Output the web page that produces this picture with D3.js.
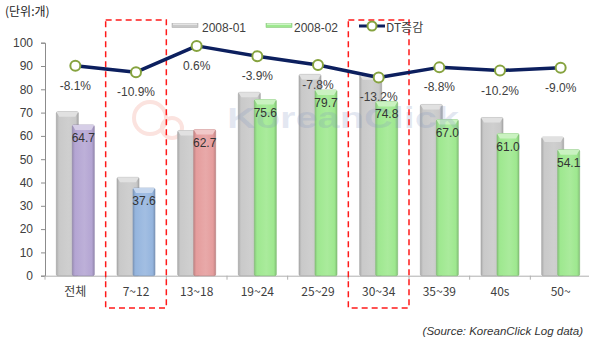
<!DOCTYPE html>
<html>
<head>
<meta charset="utf-8">
<script src="https://cdn.jsdelivr.net/npm/d3@7/dist/d3.min.js"></script>
<style>
  html, body { margin: 0; padding: 0; background: #fff; }
  svg { display: block; }
  text { font-family: "Liberation Sans", Arial, "Noto Sans CJK KR", sans-serif; }
  .kr { font-family: "Noto Sans CJK KR", "Liberation Sans", sans-serif; }
</style>
</head>
<body>
<svg id="chart" width="589" height="340"></svg>
<script>
// Daily visits by age group, Jan vs Feb 2008, with the month-over-month change
const categories = ["전체", "7~12", "13~18", "19~24", "25~29", "30~34", "35~39", "40s", "50~"];
const jan2008 = [70.4, 42.2, 62.3, 78.7, 86.4, 86.2, 73.5, 67.9, 59.5];
const feb2008 = [64.7, 37.6, 62.7, 75.6, 79.7, 74.8, 67.0, 61.0, 54.1];
const dtChange = [-8.1, -10.9, 0.6, -3.9, -7.8, -13.2, -8.8, -10.2, -9.0];
const yTicks = [0, 10, 20, 30, 40, 50, 60, 70, 80, 90, 100];
const highlighted = ["7~12", "30~34"];
const seriesNames = ["2008-01", "2008-02", "DT증감"];

// fill colour of the February bar per group
const febColors = ["#b4a5d3", "#95b5de", "#e59d9d", "#9ee88f", "#9ee88f", "#9ee88f", "#9ee88f", "#9ee88f", "#9ee88f"];

const svg = d3.select("#chart");
const plot = { left: 45, right: 591, top: 42.7, bottom: 275.7 };

const x = d3.scaleBand().domain(categories).range([plot.left, plot.right]).padding(0);
const y = d3.scaleLinear().domain([0, 100]).range([plot.bottom, plot.top]);
// secondary (hidden) axis for the percentage line
const y2 = d3.scaleLinear().domain([-100, 2]).range([plot.bottom, plot.top]);

const barW = 22, barOff = 8;

// ---- gradients for the bevelled bars
const defs = svg.append("defs");
function shade(c, k) { return d3.color(c).darker(k).formatHex(); }
function light(c, k) { return d3.interpolateRgb(c, "#ffffff")(k); }
function makeGrad(id, base) {
  const g = defs.append("linearGradient").attr("id", id).attr("x1", 0).attr("x2", 1).attr("y1", 0).attr("y2", 0);
  g.append("stop").attr("offset", "0%").attr("stop-color", shade(base, 0.45));
  g.append("stop").attr("offset", "12%").attr("stop-color", base);
  g.append("stop").attr("offset", "55%").attr("stop-color", light(base, 0.12));
  g.append("stop").attr("offset", "88%").attr("stop-color", base);
  g.append("stop").attr("offset", "100%").attr("stop-color", shade(base, 0.5));
}
makeGrad("g-jan", "#c9c9c9");
febColors.forEach((c, i) => makeGrad("g-feb-" + i, c));

// ---- faint logo swirl behind the plot
svg.append("circle").attr("cx", 150).attr("cy", 118).attr("r", 16)
  .attr("fill", "none").attr("stroke", "#fbe3df").attr("stroke-width", 4);
svg.append("circle").attr("cx", 172).attr("cy", 128).attr("r", 10)
  .attr("fill", "none").attr("stroke", "#fbe3df").attr("stroke-width", 4);

// ---- y axis
const yAxis = svg.append("g").attr("transform", `translate(${plot.left},0)`)
  .call(d3.axisLeft(y).tickValues(yTicks).tickSize(4).tickPadding(8));
yAxis.select(".domain").attr("stroke", "#8c8c8c");
yAxis.selectAll(".tick line").attr("stroke", "#8c8c8c");
yAxis.selectAll(".tick text").attr("fill", "#404040").style("font-size", "12px");

// ---- x axis
const xAxis = svg.append("g").attr("transform", `translate(0,${plot.bottom})`)
  .call(d3.axisBottom(x).tickSize(0).tickPadding(12));
xAxis.select(".domain").attr("stroke", "#b0b0b0");
xAxis.selectAll(".tick text").attr("fill", "#404040").style("font-size", "12px")
  .attr("class", "kr");
// small separators between groups
svg.append("g").selectAll("line")
  .data(categories.concat([null]))
  .join("line")
  .attr("x1", (d, i) => plot.left + i * x.bandwidth())
  .attr("x2", (d, i) => plot.left + i * x.bandwidth())
  .attr("y1", plot.bottom).attr("y2", plot.bottom + 4)
  .attr("stroke", "#b0b0b0");

// ---- bars
function drawBar(g, cx, v, fillId, topColor) {
  const x0 = cx - barW / 2, yt = y(v), h = plot.bottom - yt;
  g.append("rect").attr("x", x0).attr("y", yt).attr("width", barW).attr("height", h)
    .attr("rx", 1.5).attr("fill", `url(#${fillId})`)
    .attr("stroke", d3.color(topColor).darker(0.6)).attr("stroke-width", 0.6);
  const bev = 5;
  g.append("path")
    .attr("d", `M${x0},${yt} L${x0 + barW},${yt} L${x0 + barW - 3},${yt + bev} L${x0 + 3},${yt + bev} Z`)
    .attr("fill", light(topColor, 0.45));
}
const bars = svg.append("g");
categories.forEach((c, i) => {
  const cx = x(c) + x.bandwidth() / 2;
  drawBar(bars, cx - barOff, jan2008[i], "g-jan", "#c9c9c9");
});
categories.forEach((c, i) => {
  const cx = x(c) + x.bandwidth() / 2;
  drawBar(bars, cx + barOff, feb2008[i], "g-feb-" + i, febColors[i]);
});

// ---- translucent watermark over the bars
svg.append("text")
  .attr("x", 227).attr("y", 128)
  .attr("textLength", 232).attr("lengthAdjust", "spacingAndGlyphs")
  .style("font-family", "'Liberation Sans', Arial, sans-serif")
  .style("font-weight", "bold").style("font-size", "29px")
  .attr("fill", "#7f95c0").attr("fill-opacity", 0.22)
  .text("KoreanClick");

// value labels on the February bars
svg.append("g").selectAll("text")
  .data(categories)
  .join("text")
  .attr("x", c => x(c) + x.bandwidth() / 2 + barOff)
  .attr("y", (c, i) => y(feb2008[i]) + 17)
  .attr("text-anchor", "middle")
  .attr("fill", "#333")
  .style("font-size", "12px")
  .text((c, i) => feb2008[i].toFixed(1));

// ---- highlight boxes
highlighted.forEach(c => {
  svg.append("rect")
    .attr("x", x(c)).attr("y", 20)
    .attr("width", x.bandwidth()).attr("height", 288)
    .attr("fill", "none").attr("stroke", "#ff1a1a")
    .attr("stroke-width", 1.5).attr("stroke-dasharray", "6,4");
});

// ---- DT change line
const line = d3.line()
  .x((d, i) => x(categories[i]) + x.bandwidth() / 2)
  .y(d => y2(d));
svg.append("path").datum(dtChange)
  .attr("d", line).attr("fill", "none")
  .attr("stroke", "#0c1f5e").attr("stroke-width", 3.5).attr("stroke-linejoin", "round");
svg.append("g").selectAll("circle")
  .data(dtChange).join("circle")
  .attr("cx", (d, i) => x(categories[i]) + x.bandwidth() / 2)
  .attr("cy", d => y2(d)).attr("r", 5)
  .attr("fill", "#fff").attr("stroke", "#86a33f").attr("stroke-width", 2);
svg.append("g").selectAll("text")
  .data(dtChange).join("text")
  .attr("x", (d, i) => x(categories[i]) + x.bandwidth() / 2)
  .attr("y", d => y2(d) + 24)
  .attr("text-anchor", "middle").attr("fill", "#404040")
  .style("font-size", "12px")
  .text(d => (d < 0 ? "-" : "") + Math.abs(d).toFixed(1) + "%");

// ---- legend
const lg = svg.append("g");
function legendBar(x0, base) {
  lg.append("rect").attr("x", x0).attr("y", 23.5).attr("width", 26).attr("height", 4)
    .attr("fill", base).attr("stroke", d3.color(base).darker(0.6)).attr("stroke-width", 0.5);
  lg.append("rect").attr("x", x0 + 1).attr("y", 23.5).attr("width", 24).attr("height", 1.5)
    .attr("fill", light(base, 0.5));
}
legendBar(172, "#c9c9c9");
lg.append("text").attr("x", 202).attr("y", 32).attr("fill", "#404040").style("font-size", "12px").text(seriesNames[0]);
legendBar(266, "#9ee88f");
lg.append("text").attr("x", 294).attr("y", 32).attr("fill", "#404040").style("font-size", "12px").text(seriesNames[1]);
lg.append("line").attr("x1", 359).attr("x2", 385).attr("y1", 26).attr("y2", 26)
  .attr("stroke", "#0c1f5e").attr("stroke-width", 3);
lg.append("circle").attr("cx", 372).attr("cy", 26).attr("r", 4.5)
  .attr("fill", "#fff").attr("stroke", "#86a33f").attr("stroke-width", 2);
lg.append("text").attr("x", 386).attr("y", 32).attr("fill", "#404040").attr("class", "kr")
  .style("font-size", "12px").text(seriesNames[2]);

// ---- unit and source
svg.append("text").attr("x", 5).attr("y", 16).attr("class", "kr")
  .attr("fill", "#222").style("font-size", "12px").text("(단위:개)");
svg.append("text").attr("x", 583).attr("y", 335).attr("text-anchor", "end")
  .attr("fill", "#333").style("font-size", "11.5px").style("font-style", "italic")
  .text("(Source: KoreanClick Log data)");
</script>
</body>
</html>
